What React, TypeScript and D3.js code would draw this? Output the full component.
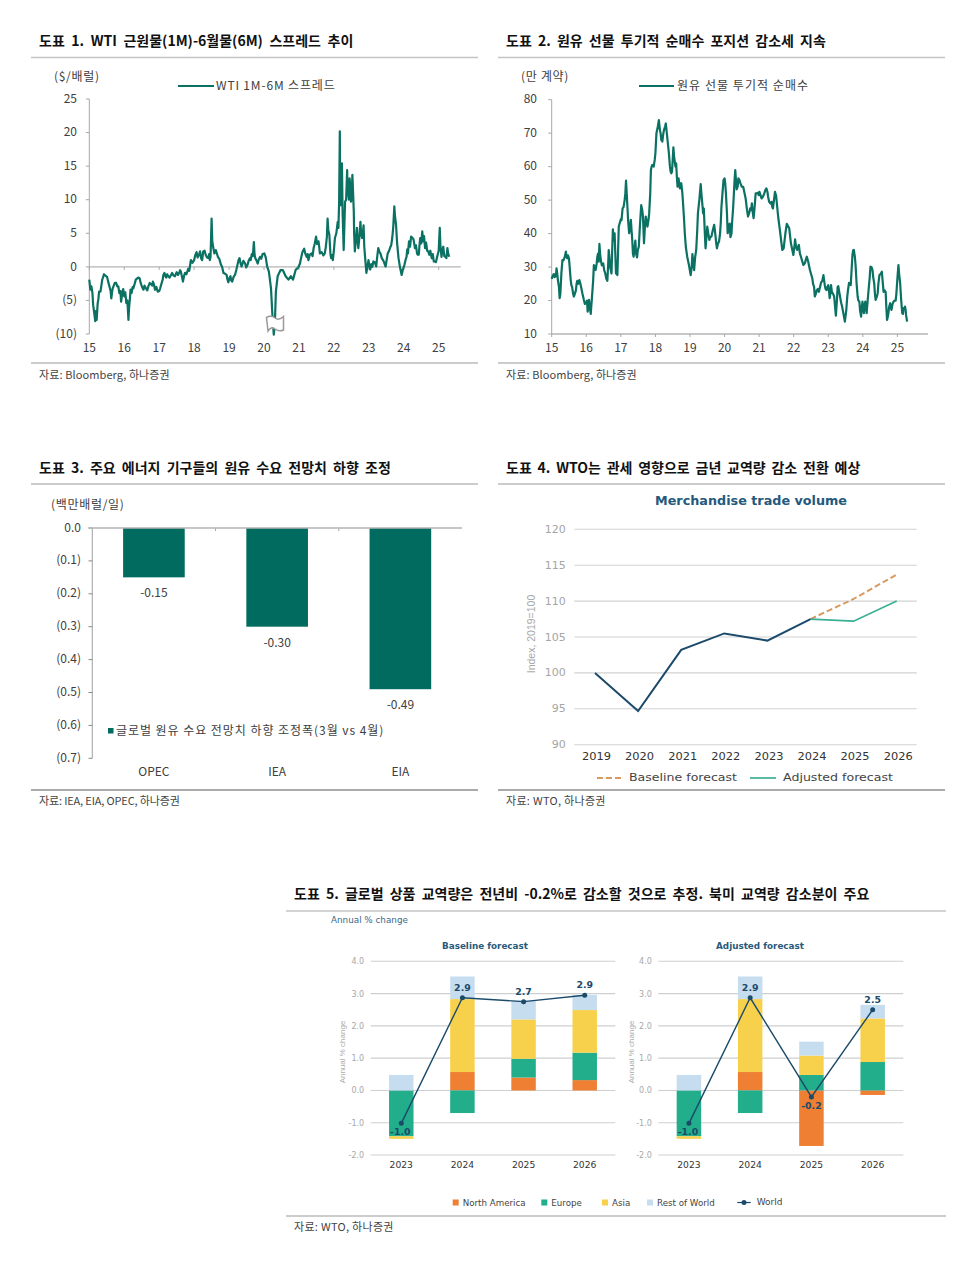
import React from "react";
import * as d3 from "d3";

// ---------- Chart 1: WTI 1M-6M spread ----------
const wtiYears = [15.00,15.03,15.09,15.11,15.17,15.21,15.24,15.28,15.32,15.37,15.42,15.48,15.54,15.59,15.63,15.67,15.73,15.80,15.86,15.91,15.95,16.00,16.06,16.12,16.16,16.21,16.26,16.33,16.40,16.47,16.55,16.62,16.69,16.77,16.82,16.88,16.96,17.03,17.10,17.15,17.20,17.26,17.34,17.41,17.50,17.58,17.62,17.68,17.74,17.83,17.88,17.91,18.00,18.07,18.14,18.20,18.26,18.33,18.41,18.45,18.50,18.55,18.62,18.68,18.77,18.84,18.93,18.98,19.04,19.09,19.17,19.25,19.30,19.36,19.46,19.53,19.60,19.65,19.71,19.75,19.82,19.89,20.01,20.09,20.14,20.20,20.24,20.28,20.31,20.34,20.39,20.47,20.54,20.62,20.70,20.77,20.83,20.91,20.98,21.06,21.15,21.22,21.27,21.36,21.42,21.49,21.56,21.60,21.70,21.77,21.82,21.87,21.92,21.97,22.03,22.11,22.15,22.17,22.20,22.23,22.28,22.32,22.38,22.41,22.45,22.49,22.53,22.57,22.60,22.66,22.70,22.76,22.81,22.85,22.93,22.99,23.04,23.13,23.21,23.27,23.37,23.48,23.54,23.62,23.67,23.73,23.78,23.85,23.94,24.02,24.08,24.15,24.25,24.32,24.40,24.47,24.53,24.61,24.70,24.80,24.89,24.97,25.03,25.08,25.13,25.19,25.25,25.30];
const wtiSpread = [-1.9,-3.4,-3.9,-5.7,-8.1,-7.9,-5.4,-3.7,-3.7,-1.9,-1.1,-1.4,-2.2,-3.2,-4.7,-3.2,-2.4,-2.9,-3.9,-5.2,-3.7,-4.4,-5.4,-7.9,-4.9,-3.9,-3.2,-1.9,-1.6,-2.4,-3.4,-3.2,-2.9,-2.6,-2.2,-3.4,-3.7,-3.2,-1.9,-0.9,-1.6,-1.4,-1.2,-1.3,-0.8,-0.8,-0.7,-2.2,-0.9,-0.3,0.05,1.0,1.0,2.2,1.8,1.3,2.3,1.8,1.3,1.0,7.2,2.8,2.5,1.5,0.3,-0.9,-1.2,-2.3,-1.4,-2.2,-1.2,0.5,1.3,0.05,0.5,0.3,1.3,1.9,3.7,1.3,0.5,1.5,2.0,0.05,-0.7,-3.2,-7.1,-10.1,-8.6,-3.7,-1.4,-0.5,-0.5,-1.4,-1.9,-1.4,-1.9,-0.4,-0.1,1.3,2.7,1.5,1.0,2.0,2.8,4.5,3.8,2.0,1.7,3.0,7.2,4.8,1.3,1.0,4.3,6.7,9.7,20.2,9.2,15.4,2.5,9.7,14.4,11.2,13.2,9.7,13.7,8.2,2.3,5.8,2.8,6.7,4.3,6.2,-0.9,1.0,-0.4,0.8,0.05,2.8,1.3,0.05,2.0,3.0,4.3,9.0,6.2,1.3,-1.2,0.3,1.5,3.8,4.3,2.8,1.8,4.3,5.3,2.8,2.3,1.3,0.8,1.8,5.8,1.5,3.0,1.5,2.8,1.5];
const wtiWiggleYears = [15.06,15.14,15.19,15.26,15.39,15.51,15.61,15.65,15.70,15.77,15.83,15.89,15.97,16.03,16.09,16.14,16.18,16.24,16.30,16.44,16.51,16.58,16.66,16.73,16.80,16.85,16.92,17.00,17.06,17.12,17.18,17.23,17.30,17.37,17.45,17.54,17.60,17.65,17.71,17.78,17.86,17.90,17.95,18.03,18.10,18.17,18.23,18.30,18.37,18.43,18.47,18.52,18.58,18.65,18.72,18.80,18.88,18.95,19.01,19.06,19.13,19.21,19.27,19.33,19.41,19.49,19.56,19.62,19.68,19.73,19.78,19.85,19.92,19.96,20.05,21.03,21.10,21.18,21.25,21.31,21.39,21.45,21.52,21.58,21.65,21.74,21.80,21.84,21.90,21.95,22.00,22.07,22.13,22.18,22.22,22.25,22.30,22.35,22.39,22.43,22.47,22.51,22.55,22.58,22.63,22.68,22.73,22.78,22.83,22.87,22.90,22.96,23.01,23.07,23.10,23.17,23.24,23.30,23.34,23.42,23.51,23.58,23.64,23.70,23.75,23.81,23.89,23.97,24.05,24.10,24.12,24.18,24.21,24.28,24.35,24.38,24.43,24.45,24.50,24.55,24.58,24.64,24.67,24.73,24.76,24.83,24.86,24.92,25.00,25.05,25.11,25.16,25.22,25.27];
const wtiWiggles = [-2.9,-6.8,-6.6,-4.8,-1.6,-1.5,-3.6,-3.8,-2.8,-2.4,-2.9,-3.6,-3.3,-3.8,-5.0,-6.0,-3.4,-3.0,-2.5,-1.7,-3.0,-2.8,-3.5,-2.4,-2.8,-2.6,-3.0,-3.6,-2.6,-1.2,-1.4,-1.1,-1.6,-0.9,-1.4,-1.2,-0.5,-1.4,-1.4,-1.1,-0.6,0.8,0.6,1.7,1.4,2.3,1.0,2.4,1.4,1.9,1.5,3.8,2.0,2.0,1.2,0.0,-1.0,-1.8,-1.7,-2.0,-1.5,-0.4,1.0,0.5,0.9,-0.1,0.9,1.0,1.6,1.8,1.0,1.1,1.2,1.9,1.4,0.5,2.2,2.0,1.9,1.8,1.6,3.4,3.4,3.0,2.2,2.0,4.5,5.5,2.0,1.8,2.4,5.0,5.8,12.0,10.0,8.0,6.0,10.0,11.0,10.0,12.0,10.5,11.0,5.0,4.0,3.8,4.4,5.0,5.0,3.0,1.0,0.0,0.3,0.4,0.0,0.7,1.5,2.3,1.9,0.9,1.0,2.4,3.2,6.0,7.5,3.5,0.0,-0.5,1.0,2.6,2.0,3.0,4.5,4.1,3.2,2.0,1.8,3.2,3.5,3.8,4.6,3.6,2.4,1.8,2.4,1.9,0.8,0.7,2.4,3.0,2.6,1.6,1.3,2.0];
const wtiYTicks = [25,20,15,10,5,0,-5,-10];
const yearTicks = [15,16,17,18,19,20,21,22,23,24,25];

// ---------- Chart 2: speculative net long ----------
const longYears = [15.00,15.02,15.06,15.12,15.14,15.18,15.23,15.28,15.31,15.38,15.41,15.45,15.50,15.55,15.59,15.64,15.70,15.74,15.80,15.86,15.93,16.00,16.04,16.08,16.13,16.16,16.20,16.22,16.27,16.32,16.36,16.38,16.42,16.49,16.55,16.61,16.65,16.69,16.73,16.77,16.82,16.86,16.90,16.94,17.00,17.05,17.11,17.15,17.19,17.24,17.29,17.33,17.37,17.42,17.47,17.52,17.59,17.64,17.67,17.72,17.77,17.82,17.87,17.91,17.98,18.03,18.10,18.15,18.20,18.25,18.30,18.35,18.39,18.44,18.48,18.52,18.56,18.60,18.64,18.67,18.71,18.75,18.80,18.85,18.92,18.97,19.02,19.07,19.12,19.18,19.23,19.31,19.36,19.40,19.45,19.50,19.56,19.62,19.70,19.74,19.78,19.84,19.89,19.91,19.97,20.00,20.04,20.09,20.13,20.17,20.22,20.27,20.31,20.35,20.40,20.46,20.54,20.61,20.68,20.74,20.79,20.84,20.90,20.97,21.01,21.07,21.15,21.21,21.24,21.29,21.36,21.40,21.46,21.49,21.55,21.60,21.67,21.71,21.76,21.80,21.87,21.92,21.99,22.04,22.10,22.15,22.21,22.28,22.32,22.38,22.42,22.47,22.54,22.59,22.61,22.67,22.73,22.79,22.86,22.90,22.95,23.00,23.04,23.08,23.12,23.17,23.22,23.29,23.34,23.40,23.48,23.55,23.60,23.65,23.70,23.74,23.79,23.85,23.90,23.95,23.99,24.03,24.07,24.11,24.17,24.22,24.28,24.33,24.37,24.43,24.48,24.55,24.60,24.66,24.70,24.74,24.79,24.83,24.89,24.95,24.99,25.03,25.08,25.14,25.18,25.22,25.25,25.28];
const netLong = [26.5,27.1,27.9,27.3,29.6,26.1,20.7,28.1,32.1,33.1,34.6,32.6,32.6,26.1,24.1,21.2,23.1,25.9,26.1,23.6,20.2,19.2,16.7,20.2,16.0,20.2,26.1,30.6,29.1,33.1,31.6,36.9,32.1,31.1,28.1,25.9,35.1,30.1,28.1,41.3,40.1,28.1,27.6,42.1,44.3,47.5,50.0,55.8,48.0,40.1,44.1,38.1,33.1,37.9,32.9,36.1,48.5,45.1,37.1,45.1,42.1,46.1,59.0,60.5,62.0,70.0,73.9,70.0,67.5,71.0,72.9,68.0,64.0,58.5,58.5,65.8,61.5,61.0,54.0,56.5,53.5,55.0,49.0,40.1,33.1,30.6,27.6,33.9,29.1,35.1,46.1,54.8,48.5,47.5,35.6,42.1,38.1,39.1,42.6,39.1,35.6,37.6,43.1,48.0,56.0,56.5,52.0,40.1,42.6,38.9,43.6,52.0,59.0,53.2,56.5,55.0,54.0,50.5,45.1,47.5,49.0,44.6,52.0,52.2,52.5,50.5,52.0,53.5,52.5,49.5,49.5,47.5,52.5,51.5,45.1,41.1,35.1,35.6,40.1,42.9,41.6,37.1,33.6,38.3,35.1,36.6,33.1,30.6,31.1,33.1,31.6,29.1,26.6,24.1,21.2,23.1,22.6,25.3,27.6,24.6,23.1,24.6,20.7,24.6,22.2,21.2,15.5,24.3,21.2,18.2,13.7,21.2,25.3,24.6,33.6,35.1,30.6,21.2,19.7,15.2,19.7,16.2,19.7,16.2,23.6,30.1,29.1,25.1,20.2,22.2,27.6,28.6,22.6,22.6,14.2,16.2,19.2,17.2,19.7,20.0,25.1,30.6,25.1,16.2,17.7,18.2,15.7,13.7];
const longWiggleYears = [15.08,15.16,15.21,15.25,15.34,15.43,15.47,15.52,15.57,15.62,15.67,15.72,15.77,15.83,15.89,15.96,16.02,16.06,16.10,16.15,16.30,16.34,16.40,16.45,16.52,16.58,16.63,16.67,16.75,16.79,16.84,16.88,17.02,17.08,17.13,17.17,17.21,17.27,17.31,17.35,17.39,17.44,17.49,17.55,17.62,17.69,17.74,17.80,17.85,17.89,17.95,18.00,18.07,18.13,18.17,18.23,18.28,18.33,18.37,18.42,18.46,18.50,18.54,18.58,18.62,18.66,18.69,18.73,18.78,18.83,18.88,19.05,19.10,19.15,19.21,19.27,19.33,19.38,19.43,19.47,19.53,19.59,19.66,19.72,19.76,19.81,19.87,19.94,20.02,20.07,20.11,20.15,20.20,20.25,20.29,20.33,20.38,20.43,20.50,20.58,20.65,20.71,20.77,20.82,20.87,20.93,20.99,21.04,21.11,21.18,21.26,21.33,21.38,21.43,21.47,22.02,22.07,22.12,22.18,22.24,22.50,22.56,22.64,22.70,22.76,22.83,22.88,22.92,22.97,23.02,23.06,23.10,23.14,23.19,23.25,23.27,23.31,23.37,23.44,23.52,23.57,23.62,23.68,23.72,23.77,23.82,23.87,23.92,23.97,24.01,24.05,24.09,24.14,24.20,24.25,24.30,24.35,24.40,24.45,24.52,24.58,24.63,24.68,24.72,24.76,24.81,24.86,24.92,24.97,25.01,25.05,25.11,25.16,25.20,25.24];
const longWiggles = [27.0,28.0,24.0,22.0,32.0,33.0,33.5,30.0,24.5,22.0,22.0,25.0,25.0,25.0,22.0,19.0,20.0,18.0,18.0,19.0,31.0,34.0,34.0,30.5,29.0,26.5,30.0,33.0,35.0,38.0,34.0,28.0,44.0,48.0,52.0,52.0,44.0,42.0,41.0,34.0,35.0,34.0,35.0,42.0,47.0,41.0,44.0,44.0,52.0,60.0,60.0,64.0,72.0,71.0,68.0,70.0,72.0,70.0,66.0,60.0,58.0,62.0,63.0,60.0,57.0,55.0,55.0,55.0,52.0,44.0,36.0,30.0,31.0,33.0,41.0,50.0,52.0,46.0,40.0,38.0,40.0,39.0,41.0,41.0,37.0,37.0,40.0,52.0,55.0,46.0,41.0,43.0,40.0,48.0,56.0,56.0,54.0,56.0,54.0,52.0,47.0,46.0,47.0,46.0,48.0,52.0,51.5,51.5,51.0,53.0,51.0,49.0,48.0,50.0,52.0,36.0,36.0,36.0,34.0,32.0,28.0,25.0,22.0,23.5,24.0,26.0,26.0,23.5,24.0,23.0,22.0,23.0,22.0,19.0,20.0,24.0,23.0,19.5,16.0,17.0,23.0,25.0,30.0,35.0,33.0,25.0,20.0,17.0,18.0,18.0,18.0,18.0,20.0,27.0,30.0,27.0,22.0,21.0,25.0,28.0,25.0,23.0,18.0,15.0,18.0,18.0,19.0,20.0,22.0,28.0,28.0,20.0,16.0,17.5,17.0];
const longYTicks = [80,70,60,50,40,30,20,10];

// ---------- Chart 3: demand revision ----------
const agencies = ["OPEC","IEA","EIA"];
const revisions = [-0.15,-0.30,-0.49];
const revisionTicks = [0,-0.1,-0.2,-0.3,-0.4,-0.5,-0.6,-0.7];

// ---------- Chart 4: trade volume ----------
const tradeYears = [2019,2020,2021,2022,2023,2024,2025,2026];
const tradeActual = [100,94.7,103.2,105.5,104.5,107.5];
const tradeBaseline = [107.5,110.3,113.7];
const tradeAdjusted = [107.5,107.2,110.0];
const tradeTicks = [120,115,110,105,100,95,90];

// ---------- Chart 5: contributions ----------
const contribYears = ["2023","2024","2025","2026"];
const regions = ["North America","Europe","Asia","Rest of World"];
const baseNA = [0,0.57,0.40,0.32];
const baseEU = [-1.42,-0.70,0.58,0.85];
const baseAS = [-0.08,2.26,1.22,1.32];
const baseRW = [0.48,0.70,0.58,0.47];
const baseWorld = [-1.02,2.87,2.75,2.95];
const baseLabels = ["-1.0","2.9","2.7","2.9"];
const adjNA = [0,0.57,-1.72,-0.14];
const adjEU = [-1.42,-0.70,0.48,0.88];
const adjAS = [-0.08,2.26,0.60,1.35];
const adjRW = [0.48,0.70,0.43,0.42];
const adjWorld = [-1.02,2.87,-0.20,2.50];
const adjLabels = ["-1.0","2.9","-0.2","2.5"];
const contribTicks = [4,3,2,1,0,-1,-2];

// ---------- style ----------
const KR = "'Noto Sans CJK KR','Noto Sans',sans-serif";
const WIDE = "'DejaVu Sans',sans-serif";
const ARIAL = "'Liberation Sans',sans-serif";
const TEAL = "#0b7163";
const BAR = "#006b5e";
const NAVY = "#1b4a6b";
const TXT = "#404040";
const regionColors = ["#ee7f33","#22ad8b","#f7d14c","#c6ddf0"];

const paren = (v: number, d = 0) => (v < 0 ? `(${Math.abs(v).toFixed(d)})` : v.toFixed(d));
const merged = (ya: number[], va: number[], yb: number[], vb: number[]) =>
  d3.sort([...ya.map((y, i) => [y, va[i]]), ...yb.map((y, i) => [y, vb[i]])], (d) => d[0]);

function Header({ x, y, rx0, rx1, ruleY, text, color = "#c4c4c4", w = 1.5, ws = 3 }: any) {
  return (
    <g>
      <text x={x} y={y} fontFamily={KR} fontWeight={700} fontSize={14} fill="#111" style={{ wordSpacing: `${ws}px` }}>{text}</text>
      <line x1={rx0} x2={rx1} y1={ruleY} y2={ruleY} stroke={color} strokeWidth={w} />
    </g>
  );
}

function Source({ x, y, rx0, rx1, ruleY, text, w = 1.2, color = "#999", ls = 0.1 }: any) {
  return (
    <g>
      <line x1={rx0} x2={rx1} y1={ruleY} y2={ruleY} stroke={color} strokeWidth={w} />
      <text x={x} y={y} fontFamily={KR} fontSize={11} fill="#444" letterSpacing={ls}>{text}</text>
    </g>
  );
}

function TimeChart({ yDomain, yRange, xRange, axisEnd, points, ticks, fmt, labelX, baselineValue, unit, unitX, legendX, legendTextX, legend, legendLS }: any) {
  const x = d3.scaleLinear().domain([15, 25]).range(xRange);
  const y = d3.scaleLinear().domain(yDomain).range(yRange);
  const line = d3.line<number[]>().x((d) => x(d[0])).y((d) => y(d[1]));
  const base = y(baselineValue);
  return (
    <g>
      <text x={unitX} y={81} fontFamily={KR} fontSize={12} fill={TXT} letterSpacing={0.7}>{unit}</text>
      <line x1={legendX[0]} x2={legendX[1]} y1={86} y2={86} stroke={TEAL} strokeWidth={2} />
      <text x={legendTextX} y={90} fontFamily={KR} fontSize={12} fill={TXT} letterSpacing={legendLS}>{legend}</text>
      <line x1={x(15)} x2={x(15)} y1={y(ticks[0])} y2={y(ticks[ticks.length - 1])} stroke="#a8a8a8" strokeWidth={1} />
      {ticks.map((t: number) => (
        <g key={t}>
          <line x1={x(15) - 3.5} x2={x(15)} y1={y(t)} y2={y(t)} stroke="#a8a8a8" />
          <text x={labelX} y={y(t) + 3.7} textAnchor="end" fontFamily={KR} fontSize={12} fill={TXT}>{fmt(t)}</text>
        </g>
      ))}
      <line x1={x(15)} x2={axisEnd} y1={base} y2={base} stroke="#b4b4b4" strokeWidth={1.4} />
      {yearTicks.map((t) => (
        <g key={t}>
          <line x1={x(t)} x2={x(t)} y1={base} y2={base + 3} stroke="#a8a8a8" />
          <text x={x(t)} y={y(ticks[ticks.length - 1]) + 17.5} textAnchor="middle" fontFamily={KR} fontSize={12} fill={TXT}>{t}</text>
        </g>
      ))}
      <path d={line(points) as string} fill="none" stroke={TEAL} strokeWidth={2.2} strokeLinejoin="round" />
    </g>
  );
}

function RevisionChart() {
  const x = d3.scaleBand<string>().domain(agencies).range([92.3, 462]).paddingInner(0.5).paddingOuter(0.25);
  const y = d3.scaleLinear().domain([0, -0.7]).range([528, 758.3]);
  const edges = d3.scaleBand<string>().domain(agencies).range([92.3, 462]);
  return (
    <g>
      <text x={51} y={509} fontFamily={KR} fontSize={12} fill={TXT} letterSpacing={0.7}>(백만배럴/일)</text>
      <line x1={92.3} x2={92.3} y1={528} y2={758.3} stroke="#a0a0a0" />
      {revisionTicks.map((t) => (
        <g key={t}>
          <line x1={88.5} x2={92.3} y1={y(t)} y2={y(t)} stroke="#888" />
          <text x={81} y={y(t) + 3.5} textAnchor="end" fontFamily={KR} fontSize={12} fill={TXT}>{paren(t, 1)}</text>
        </g>
      ))}
      {agencies.map((c, i) => (
        <g key={c}>
          <rect x={x(c)} width={x.bandwidth()} y={y(0)} height={y(revisions[i]) - y(0)} fill={BAR} />
          <text x={(x(c) as number) + x.bandwidth() / 2} y={y(revisions[i]) + 20} textAnchor="middle" fontFamily={KR} fontSize={12} fill={TXT}>{revisions[i].toFixed(2)}</text>
          <text x={(edges(c) as number) + edges.bandwidth() / 2} y={776} textAnchor="middle" fontFamily={KR} fontSize={12} fill={TXT}>{c}</text>
          {i > 0 && <line x1={edges(c)} x2={edges(c)} y1={528} y2={531} stroke="#a8a8a8" />}
        </g>
      ))}
      <line x1={88.5} x2={462} y1={528} y2={528} stroke="#b4b4b4" strokeWidth={1.4} />
      <rect x={108} y={728} width={5.5} height={5.5} fill={BAR} />
      <text x={116} y={735} fontFamily={KR} fontSize={12} fill={TXT} letterSpacing={0.95}>글로벌 원유 수요 전망치 하향 조정폭(3월 vs 4월)</text>
    </g>
  );
}

function TradeChart() {
  const x = d3.scalePoint<number>().domain(tradeYears).range([595, 896.7]);
  const y = d3.scaleLinear().domain([90, 120]).range([744.7, 529.3]);
  const line = d3.line<any>().x((d) => x(d[0]) as number).y((d) => y(d[1]));
  const actual = tradeActual.map((v, i) => [tradeYears[i], v]);
  const baseline = tradeBaseline.map((v, i) => [tradeYears[i + 5], v]);
  const adjusted = tradeAdjusted.map((v, i) => [tradeYears[i + 5], v]);
  return (
    <g>
      <text x={655} y={504.5} textLength={192} lengthAdjust="spacingAndGlyphs" fontFamily={WIDE} fontWeight={700} fontSize={12} fill="#24597d">Merchandise trade volume</text>
      {tradeTicks.map((t) => {
        const w = `${t}`.length * 7;
        return (
          <g key={t}>
            <line x1={574.3} x2={916.7} y1={y(t)} y2={y(t)} stroke="#d2d2d2" strokeWidth={1.1} />
            <text x={565.7 - w} y={y(t) + 3.5} textLength={w} lengthAdjust="spacingAndGlyphs" fontFamily={WIDE} fontSize={10} fill="#a5a5a5">{t}</text>
          </g>
        );
      })}
      <text transform="translate(534.5,634) rotate(-90)" textAnchor="middle" fontFamily={ARIAL} fontSize={10.5} fill="#a8a8a8">Index, 2019=100</text>
      {tradeYears.map((t) => (
        <text key={t} x={(x(t) as number) - 13} y={760} textLength={29} lengthAdjust="spacingAndGlyphs" fontFamily={WIDE} fontSize={10} fill="#333">{t}</text>
      ))}
      <path d={line(baseline) as string} fill="none" stroke="#d99a62" strokeWidth={2} strokeDasharray="6 3" />
      <path d={line(adjusted) as string} fill="none" stroke="#3aaf94" strokeWidth={1.7} />
      <path d={line(actual) as string} fill="none" stroke={NAVY} strokeWidth={2} />
      <line x1={597} x2={622} y1={778} y2={778} stroke="#d99a62" strokeWidth={2} strokeDasharray="6 3" />
      <text x={629} y={781} textLength={108} lengthAdjust="spacingAndGlyphs" fontFamily={WIDE} fontSize={10.5} fill="#444">Baseline forecast</text>
      <line x1={750} x2={776} y1={778} y2={778} stroke="#3aaf94" strokeWidth={1.7} />
      <text x={783} y={781} textLength={110} lengthAdjust="spacingAndGlyphs" fontFamily={WIDE} fontSize={10.5} fill="#444">Adjusted forecast</text>
    </g>
  );
}

function ContribPanel({ range, title, titleX, yLabelX, na, eu, as, rw, world, labels }: any) {
  const x = d3.scaleBand<string>().domain(contribYears).range(range);
  const y = d3.scaleLinear().domain([-2, 4]).range([1155, 961.3]);
  const rows = contribYears.map((k, i) => ({ k, [regions[0]]: na[i], [regions[1]]: eu[i], [regions[2]]: as[i], [regions[3]]: rw[i] }));
  const series = d3.stack<any>().keys(regions).offset(d3.stackOffsetDiverging)(rows);
  const cx = (i: number) => (x(contribYears[i]) as number) + x.bandwidth() / 2;
  const bw = x.bandwidth() * 0.4;
  const line = d3.line<number>().x((_, i) => cx(i)).y((d) => y(d));
  return (
    <g>
      <text x={titleX} y={949} textAnchor="middle" fontFamily={WIDE} fontWeight={700} fontSize={8.8} fill="#2a5a7c">{title}</text>
      {contribTicks.map((t) => (
        <g key={t}>
          <line x1={range[0]} x2={range[1]} y1={y(t)} y2={y(t)} stroke="#cfcfcf" strokeWidth={1.1} />
          <text x={range[0] - 6.5} y={y(t) + 3} textAnchor="end" fontFamily={WIDE} fontSize={8} fill="#a8a8a8">{t.toFixed(1)}</text>
        </g>
      ))}
      <text transform={`translate(${yLabelX},1052) rotate(-90)`} textAnchor="middle" fontFamily={ARIAL} fontSize={8} fill="#aaa">Annual % change</text>
      {series.map((s: any, si: number) =>
        s.map((d: any, i: number) => (
          <rect key={i} x={cx(i) - bw / 2} width={bw} y={y(Math.max(d[0], d[1]))} height={Math.abs(y(d[0]) - y(d[1]))} fill={regionColors[si]} />
        ))
      )}
      {contribYears.map((k, i) => (
        <text key={k} x={cx(i)} y={1168} textAnchor="middle" fontFamily={WIDE} fontSize={9.2} fill="#333">{k}</text>
      ))}
      <path d={line(world) as string} fill="none" stroke={NAVY} strokeWidth={1.4} />
      {world.map((v: number, i: number) => (
        <g key={i}>
          <circle cx={cx(i)} cy={y(v)} r={2.5} fill={NAVY} />
          <text x={cx(i) + (labels[i] === "-1.0" ? -1 : 0)} y={y(v) + (v < 0 ? 12 : -7)} textAnchor="middle" fontFamily={WIDE} fontWeight={700} fontSize={9.4} fill={NAVY}>{labels[i]}</text>
        </g>
      ))}
    </g>
  );
}

function ContribLegend() {
  const sx = [452.7, 541.3, 602, 647];
  return (
    <g>
      {regions.map((r, i) => (
        <g key={r}>
          <rect x={sx[i]} y={1199.5} width={6} height={6} fill={regionColors[i]} />
          <text x={sx[i] + 10} y={1205.5} fontFamily={WIDE} fontSize={8.7} fill="#444">{r}</text>
        </g>
      ))}
      <line x1={737.3} x2={750.7} y1={1202.5} y2={1202.5} stroke={NAVY} strokeWidth={1.2} />
      <circle cx={744} cy={1202.5} r={2.5} fill={NAVY} />
      <text x={756.7} y={1205} fontFamily={WIDE} fontSize={9} fill="#444">World</text>
    </g>
  );
}

export default function App() {
  return (
    <svg width={977} height={1267} viewBox="0 0 977 1267" style={{ position: "absolute", left: 0, top: 0, background: "#fff" }}>
      <Header x={39} y={45.5} rx0={31} rx1={478} ruleY={57.5} ws={3.4} text="도표 1. WTI 근원물(1M)-6월물(6M) 스프레드 추이" />
      <TimeChart yDomain={[-10, 25]} yRange={[334, 99]} xRange={[89.3, 438.7]} axisEnd={460.7} points={merged(wtiYears, wtiSpread, wtiWiggleYears, wtiWiggles)}
        ticks={wtiYTicks} fmt={(t: number) => paren(t)} labelX={77} baselineValue={0} unit="($/배럴)" unitX={54} legendX={[178, 214]} legendTextX={216} legend="WTI 1M-6M 스프레드" legendLS={0.85} />
      <path d="M266.5 317.5 Q271 315 275 318 T283.5 316.5 L283.5 330 Q279 332 275 329 T268 331 Z" fill="#fff" stroke="#9a9a9a" strokeWidth={1.5} />
      <Source x={39} y={379} rx0={31} rx1={478} ruleY={363} text="자료: Bloomberg, 하나증권" />

      <Header x={506} y={45.5} rx0={498} rx1={945} ruleY={57.5} text="도표 2. 원유 선물 투기적 순매수 포지션 감소세 지속" />
      <TimeChart yDomain={[10, 80]} yRange={[334, 99.7]} xRange={[551.7, 897.4]} axisEnd={928} points={merged(longYears, netLong, longWiggleYears, longWiggles)}
        ticks={longYTicks} fmt={(t: number) => `${t}`} labelX={537} baselineValue={10} unit="(만 계약)" unitX={521} legendX={[639, 674]} legendTextX={677} legend="원유 선물 투기적 순매수" legendLS={1.05} />
      <Source x={506} y={379} rx0={498} rx1={945} ruleY={363} text="자료: Bloomberg, 하나증권" />

      <Header x={39} y={472.5} rx0={31} rx1={478} ruleY={484} color="#999" w={1.2} text="도표 3. 주요 에너지 기구들의 원유 수요 전망치 하향 조정" />
      <RevisionChart />
      <Source x={39} y={805} rx0={31} rx1={478} ruleY={790} w={1.8} color="#aaa" ls={-0.15} text="자료: IEA, EIA, OPEC, 하나증권" />

      <Header x={506} y={472.5} rx0={498} rx1={945} ruleY={484} color="#999" w={1.2} ws={2.6} text="도표 4. WTO는 관세 영향으로 금년 교역량 감소 전환 예상" />
      <TradeChart />
      <Source x={506} y={805} rx0={498} rx1={945} ruleY={790} w={1.8} color="#aaa" ls={0.3} text="자료: WTO, 하나증권" />

      <Header x={294} y={899} rx0={286} rx1={946} ruleY={911} text="도표 5. 글로벌 상품 교역량은 전년비 -0.2%로 감소할 것으로 추정. 북미 교역량 감소분이 주요" />
      <text x={331} y={922.5} fontFamily={WIDE} fontSize={8.8} fill="#3a6a8a">Annual % change</text>
      <ContribPanel range={[370.7, 615.3]} title="Baseline forecast" titleX={485} yLabelX={344.5} na={baseNA} eu={baseEU} as={baseAS} rw={baseRW} world={baseWorld} labels={baseLabels} />
      <ContribPanel range={[658.3, 903.3]} title="Adjusted forecast" titleX={760} yLabelX={633.5} na={adjNA} eu={adjEU} as={adjAS} rw={adjRW} world={adjWorld} labels={adjLabels} />
      <ContribLegend />
      <Source x={294} y={1231} rx0={286} rx1={946} ruleY={1216} ls={0.3} text="자료: WTO, 하나증권" />
    </svg>
  );
}
